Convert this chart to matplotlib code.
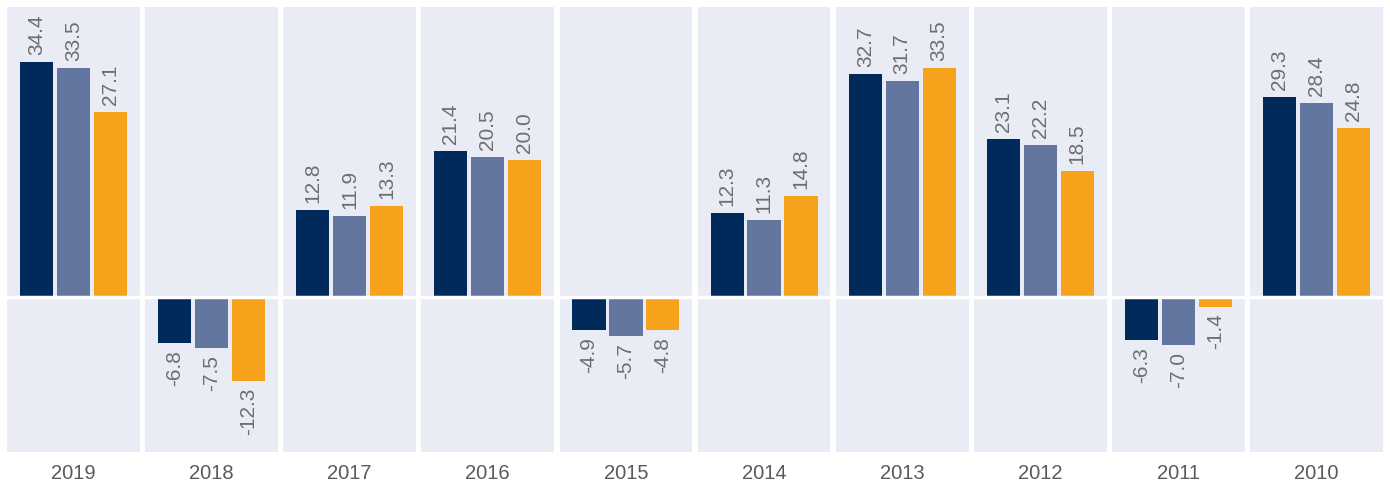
import matplotlib
matplotlib.use("Agg")
import matplotlib.pyplot as plt
import numpy as np

years = ["2019", "2018", "2017", "2016", "2015", "2014", "2013", "2012", "2011", "2010"]
series_a = [34.4, -6.8, 12.8, 21.4, -4.9, 12.3, 32.7, 23.1, -6.3, 29.3]
series_b = [33.5, -7.5, 11.9, 20.5, -5.7, 11.3, 31.7, 22.2, -7.0, 28.4]
series_c = [27.1, -12.3, 13.3, 20.0, -4.8, 14.8, 33.5, 18.5, -1.4, 24.8]

colors = ["#002a5c", "#63769f", "#f7a21b"]
bg = "#e9ecf5"
text_color = "#6e6e6e"

plt.rcParams["font.family"] = ["Liberation Sans", "DejaVu Sans"]

fig, axes = plt.subplots(1, len(years), figsize=(13.9, 4.86), dpi=100, sharey=True)
fig.subplots_adjust(left=0.005, right=0.995, top=0.986, bottom=0.07, wspace=0.04)

x = np.arange(3)
for i, ax in enumerate(axes):
    vals = [series_a[i], series_b[i], series_c[i]]
    ax.set_facecolor(bg)
    ax.bar(x, vals, width=0.9, color=colors, zorder=2)
    ax.axhline(0, color="white", linewidth=2.5, zorder=3)
    for xi, v in zip(x, vals):
        off = 5 if v >= 0 else -5
        ax.annotate(f"{v:.1f}", (xi, v), xytext=(0, off), textcoords="offset points",
                    rotation=90, ha="center", va="bottom" if v >= 0 else "top",
                    fontsize=15, color=text_color)
    ax.set_xlim(-0.8, 2.8)
    ax.set_ylim(-22.7, 42.5)
    ax.set_xticks([1])
    ax.set_xticklabels([years[i]], fontsize=14.5, color="#5a5a5a")
    ax.tick_params(axis="x", length=0, pad=9)
    ax.tick_params(axis="y", left=False, labelleft=False)
    for s in ax.spines.values():
        s.set_visible(False)

plt.savefig("out.png", dpi=100)
plt.close()
